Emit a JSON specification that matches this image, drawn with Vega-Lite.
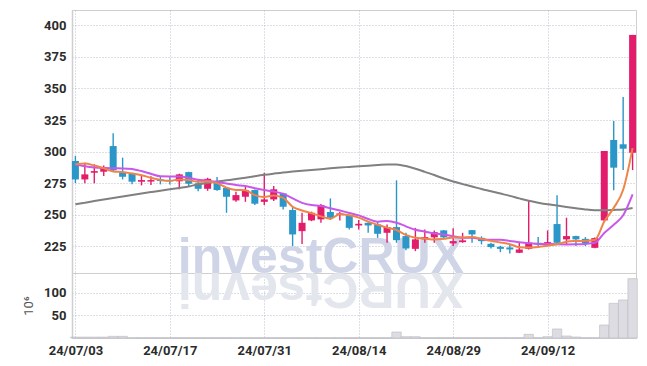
{
  "$schema": "https://vega.github.io/schema/vega-lite/v6.json",
  "background": "white",
  "padding": {"left": 22, "top": 9, "right": 9, "bottom": 5},
  "spacing": 0,
  "bounds": "flush",
  "datasets": {
    "k": [
      {"d":"24/07/03","o":292.6,"h":296.5,"l":275.1,"c":278.0,"v":2.0,"m5":290.0,"m10":290.0,"m60":258.3},
      {"d":"24/07/04","o":278.0,"h":291.2,"l":274.9,"c":282.0,"v":2.0,"m5":290.6,"m10":288.5,"m60":259.6},
      {"d":"24/07/05","o":283.3,"h":290.0,"l":274.9,"c":284.6,"v":2.0,"m5":289.0,"m10":287.5,"m60":260.9},
      {"d":"24/07/08","o":284.1,"h":289.1,"l":280.7,"c":287.6,"v":2.0,"m5":286.8,"m10":287.0,"m60":262.1},
      {"d":"24/07/09","o":304.4,"h":314.5,"l":283.8,"c":285.2,"v":3.7,"m5":284.3,"m10":286.8,"m60":263.3},
      {"d":"24/07/10","o":283.8,"h":295.2,"l":278.0,"c":280.1,"v":3.7,"m5":283.9,"m10":286.7,"m60":264.5},
      {"d":"24/07/11","o":282.8,"h":283.2,"l":274.1,"c":276.2,"v":0.8,"m5":282.7,"m10":286.2,"m60":265.7},
      {"d":"24/07/12","o":276.2,"h":280.7,"l":273.3,"c":277.5,"v":0.8,"m5":281.3,"m10":284.6,"m60":266.9},
      {"d":"24/07/15","o":276.3,"h":280.5,"l":273.5,"c":277.5,"v":0.8,"m5":279.3,"m10":282.5,"m60":268.0},
      {"d":"24/07/16","o":278.0,"h":280.7,"l":274.1,"c":276.7,"v":0.8,"m5":277.6,"m10":280.5,"m60":269.1},
      {"d":"24/07/17","o":277.5,"h":280.5,"l":274.0,"c":276.5,"v":0.8,"m5":276.9,"m10":280.4,"m60":270.2},
      {"d":"24/07/18","o":276.5,"h":282.5,"l":270.2,"c":282.0,"v":0.8,"m5":278.0,"m10":280.4,"m60":271.3},
      {"d":"24/07/19","o":283.8,"h":284.0,"l":272.8,"c":274.6,"v":0.8,"m5":277.5,"m10":279.4,"m60":272.4},
      {"d":"24/07/22","o":274.9,"h":278.0,"l":268.6,"c":270.6,"v":0.8,"m5":276.1,"m10":277.7,"m60":274.2},
      {"d":"24/07/23","o":270.6,"h":279.3,"l":269.0,"c":278.5,"v":0.8,"m5":276.4,"m10":277.0,"m60":275.2},
      {"d":"24/07/24","o":276.7,"h":279.9,"l":269.0,"c":269.6,"v":0.8,"m5":275.1,"m10":276.0,"m60":276.3},
      {"d":"24/07/25","o":271.4,"h":271.5,"l":251.6,"c":264.3,"v":0.8,"m5":271.5,"m10":274.8,"m60":277.3},
      {"d":"24/07/26","o":261.4,"h":268.2,"l":260.3,"c":265.6,"v":0.8,"m5":269.7,"m10":273.6,"m60":278.3},
      {"d":"24/07/29","o":264.3,"h":272.0,"l":260.3,"c":269.6,"v":0.8,"m5":269.5,"m10":272.8,"m60":279.4},
      {"d":"24/07/30","o":269.6,"h":270.0,"l":257.7,"c":258.8,"v":0.8,"m5":265.6,"m10":271.0,"m60":280.6},
      {"d":"24/07/31","o":260.3,"h":283.3,"l":257.7,"c":262.2,"v":0.8,"m5":264.1,"m10":269.6,"m60":281.7},
      {"d":"24/08/01","o":262.2,"h":272.8,"l":260.9,"c":270.2,"v":0.8,"m5":265.3,"m10":268.4,"m60":282.6},
      {"d":"24/08/02","o":267.0,"h":267.5,"l":254.3,"c":256.4,"v":0.8,"m5":263.4,"m10":266.6,"m60":283.4},
      {"d":"24/08/05","o":253.8,"h":256.9,"l":225.3,"c":234.5,"v":0.8,"m5":256.4,"m10":263.0,"m60":284.2},
      {"d":"24/08/06","o":237.1,"h":251.6,"l":227.0,"c":243.7,"v":0.8,"m5":253.4,"m10":259.5,"m60":284.9},
      {"d":"24/08/07","o":245.6,"h":252.5,"l":245.0,"c":251.6,"v":0.8,"m5":251.3,"m10":257.7,"m60":285.5},
      {"d":"24/08/08","o":246.4,"h":258.5,"l":243.7,"c":257.7,"v":0.8,"m5":248.8,"m10":257.0,"m60":286.1},
      {"d":"24/08/09","o":252.2,"h":263.0,"l":245.9,"c":247.7,"v":0.8,"m5":247.0,"m10":255.2,"m60":286.8},
      {"d":"24/08/12","o":249.8,"h":252.2,"l":245.6,"c":251.1,"v":0.8,"m5":250.4,"m10":253.4,"m60":287.4},
      {"d":"24/08/13","o":249.6,"h":250.0,"l":238.5,"c":239.7,"v":0.8,"m5":249.6,"m10":251.5,"m60":287.9},
      {"d":"24/08/14","o":241.6,"h":245.9,"l":238.5,"c":242.9,"v":0.8,"m5":247.8,"m10":249.6,"m60":288.4},
      {"d":"24/08/16","o":243.7,"h":244.0,"l":235.8,"c":241.6,"v":0.8,"m5":244.6,"m10":246.7,"m60":288.9},
      {"d":"24/08/19","o":242.4,"h":245.0,"l":231.8,"c":235.0,"v":0.8,"m5":242.1,"m10":244.6,"m60":289.4},
      {"d":"24/08/20","o":235.8,"h":242.4,"l":227.9,"c":240.3,"v":0.8,"m5":239.9,"m10":245.1,"m60":289.9},
      {"d":"24/08/21","o":240.3,"h":277.3,"l":227.9,"c":230.0,"v":13.2,"m5":238.0,"m10":243.8,"m60":289.8},
      {"d":"24/08/22","o":233.2,"h":235.8,"l":221.9,"c":223.4,"v":2.9,"m5":234.1,"m10":240.9,"m60":288.6},
      {"d":"24/08/23","o":223.1,"h":239.7,"l":221.3,"c":230.6,"v":2.9,"m5":231.9,"m10":238.2,"m60":286.5},
      {"d":"24/08/26","o":230.6,"h":238.5,"l":227.9,"c":232.4,"v":0.8,"m5":231.3,"m10":236.7,"m60":284.0},
      {"d":"24/08/27","o":232.2,"h":237.7,"l":227.9,"c":236.3,"v":0.8,"m5":230.5,"m10":235.2,"m60":281.5},
      {"d":"24/08/28","o":237.7,"h":238.0,"l":230.6,"c":232.2,"v":0.8,"m5":231.0,"m10":234.5,"m60":278.7},
      {"d":"24/08/29","o":227.4,"h":239.3,"l":225.3,"c":229.2,"v":0.8,"m5":232.1,"m10":233.1,"m60":276.3},
      {"d":"24/08/30","o":228.4,"h":235.8,"l":227.9,"c":229.8,"v":0.8,"m5":232.0,"m10":231.9,"m60":274.3},
      {"d":"24/09/02","o":237.9,"h":238.0,"l":227.9,"c":234.5,"v":0.8,"m5":232.4,"m10":231.9,"m60":272.4},
      {"d":"24/09/03","o":231.8,"h":233.0,"l":226.6,"c":229.2,"v":0.8,"m5":231.0,"m10":230.8,"m60":270.4},
      {"d":"24/09/04","o":227.1,"h":228.0,"l":223.4,"c":224.5,"v":0.8,"m5":229.4,"m10":230.2,"m60":268.6},
      {"d":"24/09/05","o":224.7,"h":225.5,"l":220.5,"c":223.1,"v":0.8,"m5":228.2,"m10":230.2,"m60":266.8},
      {"d":"24/09/06","o":224.2,"h":226.6,"l":219.5,"c":222.6,"v":0.8,"m5":226.8,"m10":229.4,"m60":265.0},
      {"d":"24/09/09","o":220.0,"h":228.4,"l":219.8,"c":222.6,"v":0.8,"m5":224.4,"m10":228.4,"m60":263.0},
      {"d":"24/09/10","o":223.1,"h":260.9,"l":222.5,"c":227.9,"v":8.1,"m5":224.1,"m10":227.6,"m60":261.1},
      {"d":"24/09/11","o":227.9,"h":232.4,"l":225.3,"c":226.6,"v":0.8,"m5":224.6,"m10":227.0,"m60":259.6},
      {"d":"24/09/12","o":225.8,"h":237.7,"l":225.3,"c":228.4,"v":2.9,"m5":225.6,"m10":226.9,"m60":258.3},
      {"d":"24/09/13","o":242.7,"h":265.4,"l":227.4,"c":227.9,"v":19.9,"m5":226.7,"m10":226.7,"m60":257.3},
      {"d":"24/09/19","o":230.6,"h":247.7,"l":226.6,"c":233.2,"v":4.4,"m5":228.8,"m10":226.6,"m60":256.2},
      {"d":"24/09/20","o":233.2,"h":233.5,"l":225.3,"c":230.6,"v":2.2,"m5":229.3,"m10":226.7,"m60":255.2},
      {"d":"24/09/23","o":231.0,"h":232.4,"l":225.3,"c":227.4,"v":0.8,"m5":229.5,"m10":227.0,"m60":254.3},
      {"d":"24/09/24","o":223.9,"h":232.0,"l":223.5,"c":231.6,"v":0.8,"m5":230.1,"m10":227.9,"m60":253.7},
      {"d":"24/09/25","o":245.6,"h":300.5,"l":245.0,"c":300.5,"v":28.7,"m5":244.7,"m10":235.7,"m60":253.6},
      {"d":"24/09/26","o":309.2,"h":324.2,"l":269.4,"c":287.3,"v":76.5,"m5":255.5,"m10":242.1,"m60":253.9},
      {"d":"24/09/27","o":305.8,"h":343.2,"l":285.4,"c":302.3,"v":83.9,"m5":269.8,"m10":249.6,"m60":254.3},
      {"d":"24/09/30","o":299.1,"h":392.3,"l":285.4,"c":392.3,"v":131.0,"m5":302.8,"m10":266.2,"m60":255.4}
    ]
  },
  "config": {
    "view": {"stroke": "#cfcfcf", "strokeWidth": 1},
    "axis": {
      "labelFont": "Roboto", "labelFontWeight": "bold", "labelFontSize": 13, "labelColor": "#2b2b2b",
      "labelOverlap": false,
      "gridColor": "#b9bfcc", "gridDash": [1, 2], "gridWidth": 1,
      "domainColor": "#cfcfcf", "ticks": false
    }
  },
  "vconcat": [
    {
      "width": 564, "height": 263,
      "data": {"name": "k"},
      "encoding": {
        "x": {"field": "d", "type": "ordinal", "sort": null,
              "scale": {"type": "point", "padding": 0.36, "domain": ["24/07/03","24/07/04","24/07/05","24/07/08","24/07/09","24/07/10","24/07/11","24/07/12","24/07/15","24/07/16","24/07/17","24/07/18","24/07/19","24/07/22","24/07/23","24/07/24","24/07/25","24/07/26","24/07/29","24/07/30","24/07/31","24/08/01","24/08/02","24/08/05","24/08/06","24/08/07","24/08/08","24/08/09","24/08/12","24/08/13","24/08/14","24/08/16","24/08/19","24/08/20","24/08/21","24/08/22","24/08/23","24/08/26","24/08/27","24/08/28","24/08/29","24/08/30","24/09/02","24/09/03","24/09/04","24/09/05","24/09/06","24/09/09","24/09/10","24/09/11","24/09/12","24/09/13","24/09/19","24/09/20","24/09/23","24/09/24","24/09/25","24/09/26","24/09/27","24/09/30"]},
              "axis": {"labels": false, "domain": false, "title": null, "grid": true,
                       "values": ["24/07/03","24/07/17","24/07/31","24/08/14","24/08/29","24/09/12"]}}
      },
      "layer": [
        {
          "transform": [{"filter": "datum.d == '24/08/08'"}],
          "mark": {"type": "text", "font": "Liberation Sans", "fontWeight": "bold", "fontSize": 50, "color": "#cfd5e7", "align": "center", "baseline": "alphabetic"},
          "encoding": {
            "y": {"value": "height"},
            "text": {"value": "investCRUX"}
          }
        },
        {
          "mark": {"type": "rule", "strokeWidth": 1.4},
          "encoding": {
            "y": {"field": "l", "type": "quantitative",
                  "scale": {"domain": [204, 412], "nice": false, "zero": false},
                  "axis": {"title": null, "grid": true, "tickCount": 20, "values": [225, 250, 275, 300, 325, 350, 375, 400], "labelPadding": 6, "domainWidth": 1.5, "labelOverlap": false}},
            "y2": {"field": "h"},
            "color": {"condition": {"test": "datum.c >= datum.o", "value": "#e31c6c"}, "value": "#2b96c8"}
          }
        },
        {
          "mark": {"type": "bar", "size": 7},
          "encoding": {
            "y": {"field": "o", "type": "quantitative"},
            "y2": {"field": "c"},
            "color": {"condition": {"test": "datum.c >= datum.o", "value": "#e31c6c"}, "value": "#2b96c8"}
          }
        },
        {
          "mark": {"type": "line", "color": "#808080", "strokeWidth": 2, "interpolate": "monotone"},
          "encoding": {"y": {"field": "m60", "type": "quantitative"}}
        },
        {
          "mark": {"type": "line", "color": "#c957ea", "strokeWidth": 2, "interpolate": "monotone"},
          "encoding": {"y": {"field": "m10", "type": "quantitative"}}
        },
        {
          "mark": {"type": "line", "color": "#ef8448", "strokeWidth": 2, "interpolate": "monotone"},
          "encoding": {"y": {"field": "m5", "type": "quantitative"}}
        }
      ]
    },
    {
      "width": 564, "height": 65,
      "data": {"name": "k"},
      "encoding": {
        "x": {"field": "d", "type": "ordinal", "sort": null,
              "scale": {"type": "point", "padding": 0.36, "domain": ["24/07/03","24/07/04","24/07/05","24/07/08","24/07/09","24/07/10","24/07/11","24/07/12","24/07/15","24/07/16","24/07/17","24/07/18","24/07/19","24/07/22","24/07/23","24/07/24","24/07/25","24/07/26","24/07/29","24/07/30","24/07/31","24/08/01","24/08/02","24/08/05","24/08/06","24/08/07","24/08/08","24/08/09","24/08/12","24/08/13","24/08/14","24/08/16","24/08/19","24/08/20","24/08/21","24/08/22","24/08/23","24/08/26","24/08/27","24/08/28","24/08/29","24/08/30","24/09/02","24/09/03","24/09/04","24/09/05","24/09/06","24/09/09","24/09/10","24/09/11","24/09/12","24/09/13","24/09/19","24/09/20","24/09/23","24/09/24","24/09/25","24/09/26","24/09/27","24/09/30"]},
              "axis": {"title": null, "grid": true, "labelAngle": 0, "labelPadding": 6,
                       "values": ["24/07/03","24/07/17","24/07/31","24/08/14","24/08/29","24/09/12"]}}
      },
      "layer": [
        {
          "transform": [{"filter": "datum.d == '24/08/08'"}],
          "mark": {"type": "text", "font": "Liberation Sans", "fontWeight": "bold", "fontSize": 50, "color": "#e4e6ee", "align": "center", "baseline": "alphabetic", "angle": 180},
          "encoding": {
            "y": {"value": 0},
            "text": {"value": "XURCtsevni"}
          }
        },
        {
          "mark": {"type": "bar", "size": 9.4, "color": "#dcdce2", "stroke": "#b9b9c2", "strokeWidth": 0.6},
          "encoding": {
            "y": {"field": "v", "type": "quantitative",
                  "scale": {"domain": [0, 143.5], "nice": false},
                  "axis": {"title": "10⁶", "titleFont": "Roboto", "titleFontWeight": "normal", "titleFontSize": 13, "titleColor": "#555555", "titlePadding": 8, "grid": true, "tickCount": 10,
                           "values": [50, 100], "labelPadding": 6, "domainWidth": 1.5}}
          }
        }
      ]
    }
  ]
}
